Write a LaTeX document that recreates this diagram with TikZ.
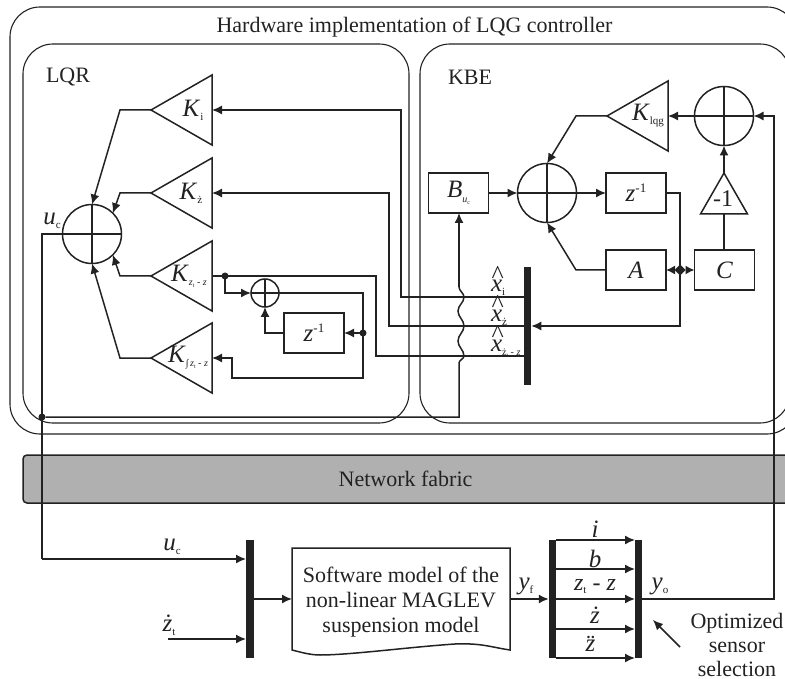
\documentclass[tikz,border=0pt]{standalone}
\usepackage{fontspec}
\setmainfont{Liberation Serif}
\usetikzlibrary{shapes.geometric,arrows.meta}
\definecolor{ink}{HTML}{222222}
\newcommand{\sz}[1]{\fontsize{#1}{#1}\selectfont}
\newcommand{\sbs}[2][-4pt]{\raisebox{#1}{\sz{11}#2}}
\newcommand{\ssbs}[1]{\raisebox{-2pt}{\sz{6}#1}}
\newcommand{\kk}{{\sz{25}\textit{K}}}
\newcommand{\hatx}{\rlap{\raisebox{9pt}{\hspace{0.5pt}\sz{26}\^{}}}{\sz{25}\textit{x}}}
\newcommand{\ztz}{\textit{z}\ssbs{t} - \textit{z}}
\tikzset{
 every node/.style={text=ink,font=\sz{22},inner sep=0pt,outer sep=0pt},
 lab/.style={},
 frame/.style={rounded corners=30pt,line width=1.1pt},
 blockbox/.style={draw,rectangle,minimum width=60pt,minimum height=40pt},
 amp/.style={draw,isosceles triangle,isosceles triangle stretches,shape border rotate=180,
   minimum height=61pt,minimum width=70pt,anchor=apex},
 amptwo/.style={draw,isosceles triangle,isosceles triangle stretches,shape border rotate=90,
   minimum height=41pt,minimum width=47pt,anchor=apex},
 sumnode/.style={draw,circle,minimum size=#1},
 sumnode/.default=59pt,
 bar/.style={fill=ink,rectangle},
 ar/.style={-{Latex[length=10pt,width=9pt]}},
 dot/.style={circle,fill=ink,minimum size=7pt},
 gem/.style={diamond,fill=ink,minimum size=11pt},
}
\begin{document}
\begin{tikzpicture}[x=1pt,y=-1pt,color=ink,line width=1.5pt]
\useasboundingbox (0,0) rectangle (785,679);
\clip (0,0) rectangle (785,679);
% frames
\draw[frame] (10,7) rectangle (797,434);
\draw[frame] (23,44) rectangle (409,423);
\draw[frame] (420,44) rectangle (790,423);
\node[lab] (title) at (414.5,27) {Hardware implementation of LQG controller};
\node[lab,anchor=west] (lqr) at (46,77) {LQR};
\node[lab,anchor=west] (kbe) at (448,77) {KBE};
% network
\draw[fill=black!31,rounded corners=4pt,draw=ink] (23,455) rectangle (800,503);
\node[lab] (net) at (405.5,479) {Network fabric};
% LQR amplifiers
\node[amp] (ki) at (151,110) {};
\node[amp] (kz) at (151,193) {};
\node[amp] (kt) at (151,276) {};
\node[amp] (kn) at (151,358) {};
\node[lab] (lki) at (193,110) {\kk\sbs{i}};
\node[lab] (lkz) at (191,193) {\kk\raisebox{-4pt}{\sz{11}\.{z}}};
\node[lab] (lkt) at (189,276) {\kk\raisebox{-4pt}{\sz{10}\ztz}};
\node[lab] (lkn) at (188,358) {\kk\raisebox{-4pt}{\sz{10}∫\,\ztz}};
% sums
\node[sumnode] (s1) at (92,234) {};
\draw (s1.north)--(s1.south) (s1.west)--(s1.east);
\node[sumnode=28pt] (s0) at (265,293) {};
\draw (s0.north)--(s0.south) (s0.west)--(s0.east);
\node[sumnode] (s2) at (547,193) {};
\draw (s2.north)--(s2.south) (s2.west)--(s2.east);
\node[sumnode] (s3) at (724,116) {};
\draw (s3.north)--(s3.south) (s3.west)--(s3.east);
% delay and KBE blocks
\node[blockbox] (d0) at (314,333) {{\sz{25}\textit{z}}\raisebox{9pt}{\sz{13}-1}};
\node[blockbox] (bu) at (458.5,193) {{\sz{25}\textit{B}}\raisebox{-5pt}{\sz{10}\textit{u}\ssbs{c}}};
\node[blockbox] (d1) at (636,193) {{\sz{25}\textit{z}}\raisebox{9pt}{\sz{13}-1}};
\node[blockbox] (ma) at (636,270) {{\sz{25}\textit{A}}};
\node[blockbox] (mc) at (724.5,270) {{\sz{25}\textit{C}}};
\node[amp] (kq) at (607,116) {};
\node[lab] (lkq) at (648,116) {\kk\sbs{lqg}};
\node[amptwo] (neg) at (724,173) {};
\node[lab,font=\sz{24}] (lneg) at (723,199) {-1};
% bars
\node[bar,minimum width=7.5pt,minimum height=118pt] (b0) at (527.5,326) {};
\node[bar,minimum width=8pt,minimum height=118pt] (b1) at (250,599) {};
\node[bar,minimum width=7.5pt,minimum height=118pt] (b2) at (552.5,599) {};
\node[bar,minimum width=7.5pt,minimum height=118pt] (b3) at (638.5,599) {};
% LQR summation inputs
\coordinate (c1) at (120,110); \coordinate (c2) at (120,193);
\coordinate (c3) at (120,276); \coordinate (c4) at (120,358);
\draw[ar] (ki.apex)--(c1)--(s1.north);
\draw[ar] (kz.apex)--(c2)--(s1.45);
\draw[ar] (kt.apex)--(c3)--(s1.-45);
\draw[ar] (kn.apex)--(c4)--(s1.south);
% state lines
\coordinate (x1) at (401,110); \coordinate (x1b) at (401,297); \coordinate (b1e) at (524,297);
\coordinate (x2) at (389,193); \coordinate (x2b) at (389,326); \coordinate (b2e) at (524,326);
\coordinate (x3) at (376,276); \coordinate (x3b) at (376,356); \coordinate (b3e) at (524,356);
\coordinate (kib) at (212,110); \coordinate (kzb) at (212,193); \coordinate (ktb) at (212,276);
\coordinate (knb) at (212,358);
\draw[ar] (b1e)--(x1b)--(x1)--(kib);
\draw[ar] (b2e)--(x2b)--(x2)--(kzb);
\draw (b3e)--(x3b)--(x3)--(ktb);
% small integrator loop
\node[dot] (j1) at (225,276) {};
\node[dot] (j2) at (363,333) {};
\coordinate (e1) at (225,293);
\draw[ar] (j1)--(e1)--(s0.west);
\coordinate (e2) at (363,293); \coordinate (e3) at (363,378); \coordinate (e4) at (232,378); \coordinate (e5) at (232,358);
\draw[ar] (s0.east)--(e2)--(e3)--(e4)--(e5)--(knb);
\draw[ar] (j2)--(d0.east);
\coordinate (e6) at (265,333);
\draw[ar] (d0.west)--(e6)--(s0.south);
% control output
\coordinate (u1) at (42,234); \coordinate (u2) at (42,559); \coordinate (u3) at (246,559);
\node[dot] (j3) at (42,417) {};
\draw (s1.west)--(u1)--(u2);
\draw[ar] (u2)--(u3);
\coordinate (b4) at (459,417); \coordinate (w0) at (459,363); \coordinate (w1) at (459,287);
\draw (j3)--(b4)--(w0)
 .. controls (459,360) and (464,359) .. (464,356)
 .. controls (464,350) and (458,347) .. (458,341)
 .. controls (458,335) and (464,332) .. (464,326)
 .. controls (464,320) and (458,317) .. (458,311)
 .. controls (458,305) and (464,303) .. (464,297)
 .. controls (464,293) and (459,291) .. (w1);
\draw[ar] (w1)--(bu.south -| w1);
\node[lab] (lu1) at (52,221) {{\sz{25}\textit{u}}\sbs{c}};
% KBE links
\draw[ar] (bu.east)--(s2.west);
\draw[ar] (s2.east)--(d1.west);
\coordinate (k1) at (576,116);
\draw[ar] (kq.apex)--(k1)--(s2.north);
\coordinate (k2) at (576,270);
\draw[ar] (ma.west)--(k2)--(s2.south);
\coordinate (k3) at (680,193); \coordinate (k4) at (680,326);
\draw[ar] (d1.east)--(k3)--(k4)--(b0.east |- k4);
\node[gem] (jd) at (680,270) {};
\draw[-{Latex[length=9pt,width=9pt]}] (jd)--(ma.east);
\draw[-{Latex[length=9pt,width=9pt]}] (jd)--(mc.west);
\draw (mc.north -| neg.apex)--(neg.lower side);
\draw[ar] (neg.apex)--(s3.south);
\draw[ar] (s3.west)--(kq.lower side);
% hats
\node[lab,anchor=base west] (hx1) at (491,292) {\hatx\sbs{i}};
\node[lab,anchor=base west] (hx2) at (491,321) {\hatx\raisebox{-4pt}{\sz{11}\.{z}}};
\node[lab,anchor=base west] (hx3) at (491,351) {\hatx\raisebox{-4pt}{\sz{10}\.{z}\ssbs{t} - \textit{z}}};
% plant
\draw (292,548) -- (510,548) -- (510,650) .. controls (490,647) and (482,643) .. (455,644) .. controls (410,647) and (350,655) .. (320,655) .. controls (310,655) and (300,652) .. (292,650) -- cycle;
\coordinate (p1) at (292,599); \coordinate (p2) at (510,599);
\node[lab,align=center] (soft) at (401,602) {Software model of the\\[3pt]non-linear MAGLEV\\[3pt]suspension model};
\draw[ar] (b1.east |- p1)--(p1);
\draw[ar] (p2)--(b2.west |- p2);
\coordinate (zin) at (168,639);
\draw[ar] (zin)--(zin -| b1.west);
\node[lab] (lu2) at (172,547) {{\sz{25}\textit{u}}\sbs{c}};
\node[lab] (lz2) at (169,625) {{\sz{25}\textit{\.{z}}}\sbs{t}};
% sensors
\foreach \yy/\nm in {540/a,569/b,599/c,629/d,658/e}{
  \coordinate (f\nm) at (556,\yy); \coordinate (g\nm) at (635,\yy);
  \draw[ar] (f\nm)--(g\nm);
}
\node[lab,font=\sz{25}] (ls1) at (595,529) {\textit{i}};
\node[lab,font=\sz{25}] (ls2) at (595,559) {\textit{b}};
\node[lab,font=\sz{24}] (ls3) at (595,587) {\textit{z}\sbs[-3pt]{t} - \textit{z}};
\node[lab,font=\sz{25}] (ls4) at (595,615) {\textit{\.{z}}};
\node[lab,font=\sz{25}] (ls5) at (595,644) {\textit{\"{z}}};
\node[lab] (lyf) at (526,586) {{\sz{25}\textit{y}}\sbs{f}};
\node[lab] (lyo) at (660,586) {{\sz{25}\textit{y}}\sbs{o}};
% output
\coordinate (o1) at (774,599); \coordinate (o2) at (774,116);
\draw[ar] (b3.east |- o1)--(o1)--(o2)--(s3.east);
% annotation
\coordinate (t1) at (680,647); \coordinate (t2) at (653,620);
\draw[ar] (t1)--(t2);
\node[lab,align=center] (sel) at (737,645) {Optimized\\[2pt]sensor\\[2pt]selection};
\end{tikzpicture}
\end{document}
